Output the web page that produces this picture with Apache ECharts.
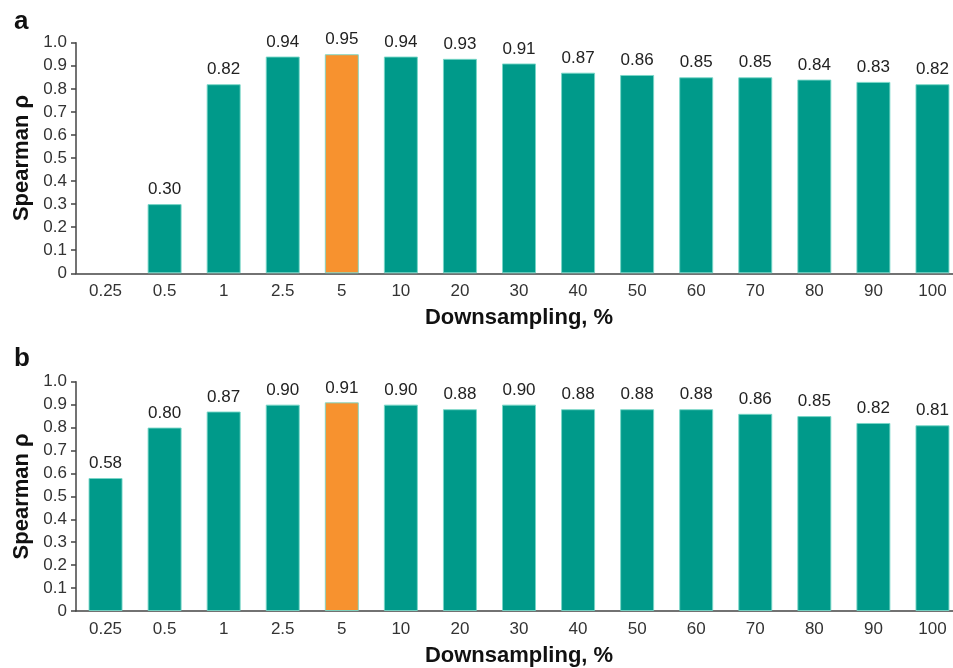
<!DOCTYPE html>
<html>
<head>
<meta charset="utf-8">
<script src="https://cdn.jsdelivr.net/npm/echarts@6/dist/echarts.min.js"></script>
<style>
  html, body { margin: 0; padding: 0; background: #fff; overflow: hidden; }
  /* 图表比窗口略宽，最后一列在右侧被裁掉一点，与原图一致 */
  #chart { width: 962px; height: 668px; }
</style>
</head>
<body>
<div id="chart"></div>
<script>
// 横轴类别（降采样百分比）
const categories = ['0.25', '0.5', '1', '2.5', '5', '10', '20', '30', '40', '50', '60', '70', '80', '90', '100'];
// a 面板数值，0.25 处无柱
const valuesA = [null, 0.30, 0.82, 0.94, 0.95, 0.94, 0.93, 0.91, 0.87, 0.86, 0.85, 0.85, 0.84, 0.83, 0.82];
// b 面板数值
const valuesB = [0.58, 0.80, 0.87, 0.90, 0.91, 0.90, 0.88, 0.90, 0.88, 0.88, 0.88, 0.86, 0.85, 0.82, 0.81];
const highlightCat = '5';

const font = 'Liberation Sans, Arial, Helvetica, sans-serif';
const teal = '#009a8a';
const orange = '#f7922f';
const axisColor = '#444';

function barData(values) {
  return values.map((v, i) => ({
    value: v,
    itemStyle: { color: categories[i] === highlightCat ? orange : teal }
  }));
}

function xAxis(gridIndex) {
  return {
    type: 'category',
    gridIndex: gridIndex,
    data: categories,
    name: 'Downsampling, %',
    nameLocation: 'middle',
    nameGap: 34,
    nameTextStyle: { color: '#111', fontSize: 22, fontWeight: 'bold', fontFamily: font },
    axisLine: { lineStyle: { color: axisColor, width: 1.5 } },
    axisTick: { length: 6, lineStyle: { color: axisColor, width: 1.5 } },
    axisLabel: { color: '#333', fontSize: 17, fontFamily: font, margin: 10 }
  };
}

function yAxis(gridIndex) {
  return {
    type: 'value',
    gridIndex: gridIndex,
    min: 0,
    max: 1,
    interval: 0.1,
    name: 'Spearman ρ',
    nameLocation: 'middle',
    nameGap: 41,
    nameTextStyle: { color: '#111', fontSize: 22, fontWeight: 'bold', fontFamily: font },
    axisLine: { show: true, lineStyle: { color: axisColor, width: 1.5 } },
    axisTick: { show: true, length: 5, lineStyle: { color: axisColor, width: 1.5 } },
    splitLine: { show: false },
    axisLabel: {
      color: '#333', fontSize: 17, fontFamily: font, margin: 9,
      formatter: function (v) { return v === 0 ? '0' : v.toFixed(1); }
    }
  };
}

function barSeries(idx, values) {
  return {
    type: 'bar',
    xAxisIndex: idx,
    yAxisIndex: idx,
    data: barData(values),
    barWidth: 34,
    itemStyle: { borderColor: 'rgba(120,215,200,0.9)', borderWidth: 1 },
    label: {
      show: true,
      position: 'top',
      distance: 6,
      color: '#222',
      fontSize: 17,
      fontFamily: font,
      formatter: function (p) { return p.value == null ? '' : p.value.toFixed(2); }
    }
  };
}

const myChart = echarts.init(document.getElementById('chart'));
const option = {
  animation: false,
  title: [
    { text: 'a', left: 9, top: 4, textStyle: { fontSize: 26, fontWeight: 'bold', color: '#111', fontFamily: font } },
    { text: 'b', left: 9, top: 341, textStyle: { fontSize: 26, fontWeight: 'bold', color: '#111', fontFamily: font } }
  ],
  grid: [
    { left: 76, right: 0, top: 42.7, height: 230.6 },
    { left: 76, right: 0, top: 381.7, height: 230 }
  ],
  xAxis: [xAxis(0), xAxis(1)],
  yAxis: [yAxis(0), yAxis(1)],
  series: [barSeries(0, valuesA), barSeries(1, valuesB)]
};
myChart.setOption(option, true);
window.addEventListener('resize', () => { myChart.resize(); });
</script>
</body>
</html>
